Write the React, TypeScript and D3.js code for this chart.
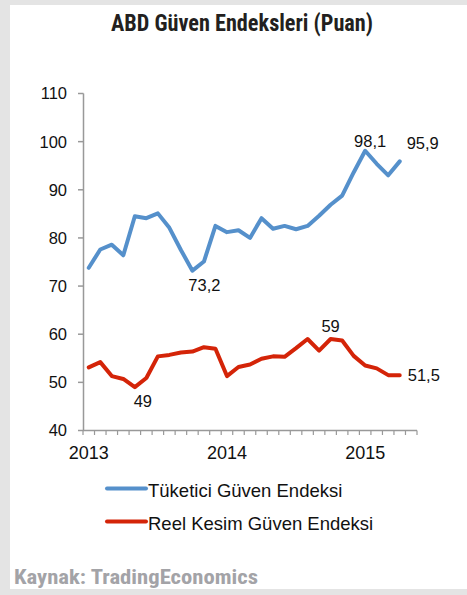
import React from "react";
import * as d3 from "d3";

const months: string[] = [
  "2013-01","2013-02","2013-03","2013-04","2013-05","2013-06","2013-07","2013-08","2013-09","2013-10","2013-11","2013-12",
  "2014-01","2014-02","2014-03","2014-04","2014-05","2014-06","2014-07","2014-08","2014-09","2014-10","2014-11","2014-12",
  "2015-01","2015-02","2015-03","2015-04","2015-05",
];

const consumer: number[] = [
  73.8, 77.6, 78.6, 76.4, 84.5, 84.1, 85.1, 82.1, 77.5, 73.2, 75.1, 82.5,
  81.2, 81.6, 80.0, 84.1, 81.9, 82.5, 81.8, 82.5, 84.6, 86.9, 88.8, 93.6,
  98.1, 95.4, 93.0, 95.9,
];

const business: number[] = [
  53.1, 54.2, 51.3, 50.7, 49.0, 50.9, 55.4, 55.7, 56.2, 56.4, 57.3, 57.0,
  51.3, 53.2, 53.7, 54.9, 55.4, 55.3, 57.1, 59.0, 56.6, 59.0, 58.7, 55.5,
  53.5, 52.9, 51.5, 51.5,
];

const yTicks: number[] = [40, 50, 60, 70, 80, 90, 100, 110];
const yearLabels: string[] = ["2013", "2014", "2015"];
const yearMonths: string[] = ["2013-01", "2014-01", "2015-01"];

const seriesNames: string[] = ["Tüketici Güven Endeksi", "Reel Kesim Güven Endeksi"];
const title = "ABD Güven Endeksleri (Puan)";
const source = "Kaynak: TradingEconomics";

const annotations = [
  { s: 0, i: 9, text: "73,2", anchor: "middle", dx: 12, dy: 20 },
  { s: 0, i: 24, text: "98,1", anchor: "middle", dx: 5, dy: -4 },
  { s: 0, i: 27, text: "95,9", anchor: "middle", dx: 23, dy: -12 },
  { s: 1, i: 4, text: "49", anchor: "middle", dx: 8, dy: 20 },
  { s: 1, i: 21, text: "59", anchor: "middle", dx: 0, dy: -7 },
  { s: 1, i: 27, text: "51,5", anchor: "start", dx: 8, dy: 6 },
];

const W = 467;
const H = 595;
const COLORS = ["#5590cb", "#d42408"];
const FONT = "'Liberation Sans', Arial, Helvetica, sans-serif";
const NARROW = "'Liberation Sans Narrow', 'Roboto Condensed', 'DejaVu Sans Condensed', 'Liberation Sans', Arial, sans-serif";

export default function App() {
  const x = d3.scaleBand<string>().domain(months).range([83, 417]).padding(0);
  const y = d3.scaleLinear().domain([40, 110]).range([430.5, 93.5]);
  const cx = (m: string) => (x(m) as number) + x.bandwidth() / 2;
  const series = [consumer, business];
  const line = d3
    .line<number>()
    .x((_, i) => cx(months[i]))
    .y((v) => y(v));

  const boundaries = months.map((m) => x(m) as number).concat([x.range()[1]]);

  return (
    <div style={{ position: "fixed", left: 0, top: 0, width: W, height: H }}>
      <svg width={W} height={H} style={{ display: "block" }}>
        <rect x={0} y={0} width={W} height={H} fill="#e4e4e4" />
        <rect x={10} y={5} width={W - 10} height={584} fill="#ffffff" />

        <text
          x={242}
          y={31}
          textAnchor="middle"
          fontFamily={NARROW}
          fontWeight="bold"
          fontSize={23}
          fill="#231f20"
          textLength={262}
          lengthAdjust="spacingAndGlyphs"
        >
          {title}
        </text>

        {/* y axis */}
        <line x1={83.5} x2={83.5} y1={y(110)} y2={y(40)} stroke="#999" strokeWidth={1.5} />
        {yTicks.map((t) => (
          <g key={t}>
            <line x1={78} x2={83.5} y1={y(t)} y2={y(t)} stroke="#999" strokeWidth={1.5} />
            <text
              x={67}
              y={y(t)}
              dy="0.36em"
              textAnchor="end"
              fontFamily={FONT}
              fontSize={16.5}
              fill="#111"
            >
              {t}
            </text>
          </g>
        ))}

        {/* x axis */}
        <line x1={83} x2={417} y1={y(40)} y2={y(40)} stroke="#999" strokeWidth={1.5} />
        {boundaries.map((b, k) => (
          <line key={k} x1={b} x2={b} y1={y(40)} y2={y(40) + 4.5} stroke="#999" strokeWidth={1.2} />
        ))}
        {yearLabels.map((lab, k) => (
          <text
            key={lab}
            x={cx(yearMonths[k])}
            y={459}
            textAnchor="middle"
            fontFamily={FONT}
            fontSize={18}
            fill="#111"
          >
            {lab}
          </text>
        ))}

        {/* lines */}
        {series.map((s, k) => (
          <path
            key={k}
            d={line(s) as string}
            fill="none"
            stroke={COLORS[k]}
            strokeWidth={4}
            strokeLinejoin="round"
            strokeLinecap="round"
          />
        ))}

        {/* annotations */}
        {annotations.map((a, k) => (
          <text
            key={k}
            x={cx(months[a.i]) + a.dx}
            y={y(series[a.s][a.i]) + a.dy}
            textAnchor={a.anchor as any}
            fontFamily={FONT}
            fontSize={16.5}
            fill="#111"
          >
            {a.text}
          </text>
        ))}

        {/* legend */}
        {seriesNames.map((n, k) => (
          <g key={n}>
            <line
              x1={107}
              x2={146}
              y1={488.5 + k * 33}
              y2={488.5 + k * 33}
              stroke={COLORS[k]}
              strokeWidth={4}
              strokeLinecap="round"
            />
            <text x={148} y={496.5 + k * 33.5} fontFamily={FONT} fontSize={18.5} fill="#111">
              {n}
            </text>
          </g>
        ))}

        <text
          x={14}
          y={584}
          fontFamily={NARROW}
          fontWeight="bold"
          fontSize={19.5}
          fill="#a3a3a7"
          textLength={244}
          lengthAdjust="spacingAndGlyphs"
        >
          {source}
        </text>
      </svg>
    </div>
  );
}
